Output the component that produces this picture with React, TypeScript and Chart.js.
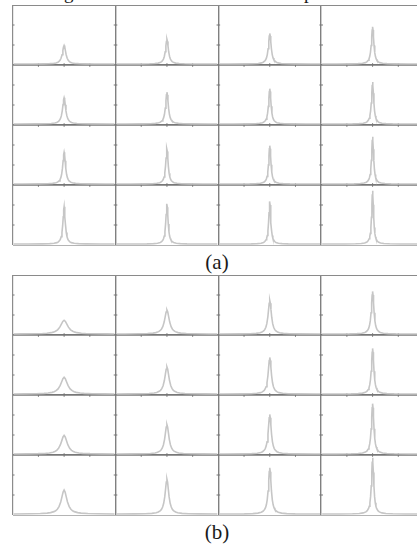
import React, { useEffect, useRef } from "react";
import { Chart, registerables } from "chart.js";
Chart.register(...registerables);

// grid of sub-plots: 4 rows x 4 columns per panel
const COLUMNS = [0, 1, 2, 3];
const ROWS = [0, 1, 2, 3];

// peak heights (fraction of a cell's height), row by row (top row first)
const PEAKS_A = [
  [0.31, 0.41, 0.51, 0.62],
  [0.44, 0.53, 0.59, 0.7],
  [0.53, 0.59, 0.64, 0.79],
  [0.62, 0.67, 0.71, 0.89],
];
const PEAKS_B = [
  [0.23, 0.4, 0.56, 0.71],
  [0.28, 0.45, 0.61, 0.76],
  [0.31, 0.49, 0.66, 0.84],
  [0.4, 0.58, 0.77, 0.94],
];
// peak half widths (fraction of a cell's width)
const WIDTHS_A = [
  [0.02, 0.017, 0.016, 0.014],
  [0.018, 0.016, 0.014, 0.013],
  [0.016, 0.014, 0.013, 0.012],
  [0.014, 0.013, 0.012, 0.011],
];
const WIDTHS_B = [
  [0.042, 0.027, 0.019, 0.015],
  [0.039, 0.025, 0.018, 0.014],
  [0.036, 0.023, 0.0175, 0.014],
  [0.033, 0.021, 0.0165, 0.013],
];
// peak profile: offset (in half widths) -> relative height
const PROFILE_U = [0, 0.3, 0.6, 1, 1.5, 2, 2.5, 3, 4, 5, 7, 10, 15, 25];
const PROFILE_V = [1, 0.917, 0.735, 0.5, 0.308, 0.2, 0.138, 0.1, 0.059, 0.038, 0.02, 0.0099, 0.0044, 0.0016];
// small tick marks inside each cell
const X_TICK_FRACS = [0.25, 0.5, 0.75];
const Y_TICK_FRACS = [1 / 3, 2 / 3];
const CAPTIONS = ["(a)", "(b)"];

const BASE_LIFT = 0.016;

function peakData(col: number, row: number, amp: number, w: number) {
  const base = 3 - row + BASE_LIFT;
  const center = col + 0.5;
  const pts: { x: number; y: number }[] = [{ x: col + 0.01, y: base }];
  for (let i = PROFILE_U.length - 1; i >= 0; i--) {
    const dx = PROFILE_U[i] * w;
    if (dx < 0.48) pts.push({ x: center - dx, y: base + amp * PROFILE_V[i] });
  }
  for (let i = 1; i < PROFILE_U.length; i++) {
    const dx = PROFILE_U[i] * w;
    if (dx < 0.48) pts.push({ x: center + dx, y: base + amp * PROFILE_V[i] });
  }
  pts.push({ x: col + 0.99, y: base });
  return pts;
}

function Panel(props: { peaks: number[][]; widths: number[][]; top: number; padTop: number; padBottom: number }) {
  const ref = useRef<HTMLCanvasElement | null>(null);
  useEffect(() => {
    if (!ref.current) return;
    const datasets: any[] = [];
    ROWS.forEach((r) =>
      COLUMNS.forEach((c) => {
        datasets.push({
          data: peakData(c, r, props.peaks[r][c], props.widths[r][c]),
          showLine: true,
          borderColor: "#c6c6c6",
          borderWidth: 1.6,
          pointRadius: 0,
          tension: 0,
        });
      })
    );
    const xt: { x: number; y: number }[] = [];
    [1, 2, 3].forEach((y) => COLUMNS.forEach((c) => X_TICK_FRACS.forEach((f) => xt.push({ x: c + f, y }))));
    const yt: { x: number; y: number }[] = [];
    [0, 1, 2, 3].forEach((x) => ROWS.forEach((r) => Y_TICK_FRACS.forEach((f) => yt.push({ x, y: r + f }))));
    datasets.push({
      data: xt,
      showLine: false,
      pointStyle: "line",
      rotation: 90,
      pointRadius: 1.8,
      borderWidth: 1,
      borderColor: "#777",
    });
    datasets.push({
      data: yt,
      showLine: false,
      pointStyle: "line",
      rotation: 0,
      pointRadius: 1.8,
      borderWidth: 1,
      borderColor: "#777",
    });
    const chart = new Chart(ref.current, {
      type: "scatter",
      data: { datasets },
      options: {
        animation: false,
        responsive: false,
        events: [],
        layout: { padding: { left: 12.7, right: 6, top: props.padTop, bottom: props.padBottom } },
        plugins: { legend: { display: false }, tooltip: { enabled: false }, title: { display: false } },
        scales: {
          x: {
            type: "linear",
            min: 0,
            max: 4,
            ticks: { display: false, stepSize: 1 },
            border: { display: false },
            grid: {
              drawTicks: false,
              tickLength: 0,
              color: (ctx: any) => (ctx.tick && ctx.tick.value === 0 ? "#8c8c8c" : "#808080"),
              lineWidth: (ctx: any) => (ctx.tick && ctx.tick.value === 0 ? 1.2 : 1.4),
            },
          },
          y: {
            type: "linear",
            min: 0,
            max: 4,
            ticks: { display: false, stepSize: 1 },
            border: { display: false },
            grid: {
              drawTicks: false,
              tickLength: 0,
              color: (ctx: any) => {
                const v = ctx.tick ? ctx.tick.value : 1;
                if (v === 0) return "#b4b4b4";
                if (v === 4) return "#8a8a8a";
                return "#787878";
              },
              lineWidth: (ctx: any) => {
                const v = ctx.tick ? ctx.tick.value : 1;
                return v === 0 || v === 4 ? 1 : 1.8;
              },
            },
          },
        },
      },
    });
    return () => chart.destroy();
  }, []);
  return (
    <canvas
      ref={ref}
      width={430}
      height={250}
      style={{ position: "absolute", left: 0, top: props.top, width: 430, height: 250 }}
    />
  );
}

const captionStyle = (top: number, size: number): React.CSSProperties => ({
  position: "absolute",
  left: 0,
  width: 434,
  top,
  textAlign: "center",
  fontFamily: "'Liberation Serif', 'DejaVu Serif', serif",
  fontSize: size,
  lineHeight: "20px",
  color: "#1a1a1a",
});

export default function App() {
  return (
    <div
      style={{
        position: "absolute",
        left: 0,
        top: 0,
        width: 417,
        height: 546,
        overflow: "hidden",
        background: "#fff",
      }}
    >
      <span style={{ ...captionStyle(-17.5, 19), left: 64, width: "auto", textAlign: "left" }}>g</span>
      <span style={{ ...captionStyle(-17.5, 19), left: 304, width: "auto", textAlign: "left" }}>p</span>
      <Panel peaks={PEAKS_A} widths={WIDTHS_A} top={0} padTop={3.3} padBottom={3.3} />
      <div style={captionStyle(251.6, 21)}>{CAPTIONS[0]}</div>
      <Panel peaks={PEAKS_B} widths={WIDTHS_B} top={270} padTop={4.3} padBottom={2.7} />
      <div style={captionStyle(521.9, 21)}>{CAPTIONS[1]}</div>
    </div>
  );
}
